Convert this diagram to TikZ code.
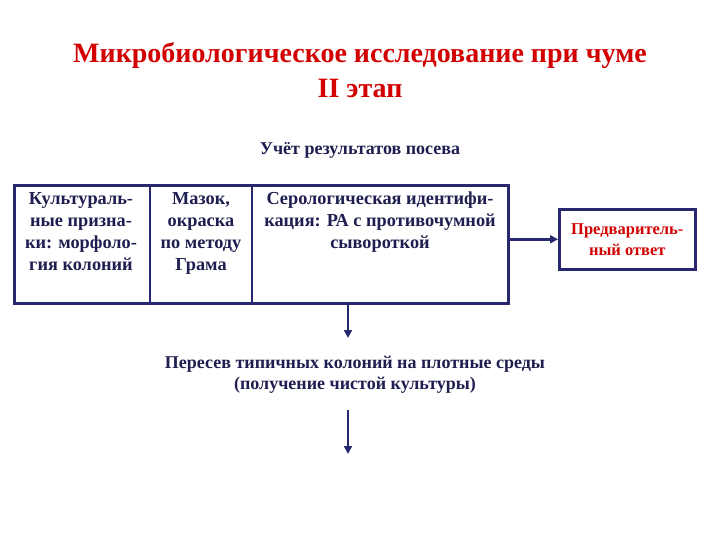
\documentclass[tikz,border=0pt]{standalone}
\usepackage{fontspec}
\setmainfont{Liberation Serif}
\usetikzlibrary{arrows.meta}
\definecolor{navy}{RGB}{40,40,110}
\definecolor{txt}{RGB}{30,30,80}
\definecolor{ttl}{RGB}{210,0,0}
\tikzset{
  cell/.style={anchor=north, align=center, font=\bfseries\fontsize{18.3}{22}\selectfont, text=txt, inner sep=0pt},
  box/.style={draw=navy, line width=2.6pt, inner sep=0pt},
  arr/.style={draw=navy, line width=2.8pt, -{Triangle[length=8pt,width=8pt]}}
}
\begin{document}
\begin{tikzpicture}[x=1pt,y=-1pt]
\useasboundingbox (0,0) rectangle (720,540);
\node[font=\bfseries\fontsize{28}{35}\selectfont, text=ttl, align=center] (title) at (360,70) {Микробиологическое исследование при чуме\\II этап};
\node[font=\bfseries\fontsize{18}{20}\selectfont, text=txt] (head) at (360,150) {Учёт результатов посева};
\node[box, minimum width=494, minimum height=118, anchor=north west] (big) at (13,184) {};
\draw[navy, line width=2.6pt] (150,184) -- (150,302);
\draw[navy, line width=2.6pt] (252,184) -- (252,302);
\node[cell] (c1) at (81,192) {Культураль-\\ные призна-\\ки: морфоло-\\гия колоний};
\node[cell] (c2) at (201,192) {Мазок,\\окраска\\по методу\\Грама};
\node[cell] (c3) at (380,192) {Серологическая идентифи-\\кация: РА с противочумной\\сывороткой};
\node[box, minimum width=136, minimum height=60, anchor=north west, align=center, font=\bfseries\fontsize{16.5}{21}\selectfont, text=ttl] (pre) at (558,208) {Предваритель-\\ный ответ};
\draw[arr] (big.east |- pre.west) -- (pre.west);
\coordinate (a1) at (348,302);
\node[font=\bfseries\fontsize{18}{21}\selectfont, text=txt, align=center] (res) at (355,375) {Пересев типичных колоний на плотные среды\\(получение чистой культуры)};
\draw[arr] (a1) -- (348,338);
\coordinate (a2s) at (348,410);
\coordinate (a2e) at (348,454);
\draw[arr] (a2s) -- (a2e);
\end{tikzpicture}
\end{document}
